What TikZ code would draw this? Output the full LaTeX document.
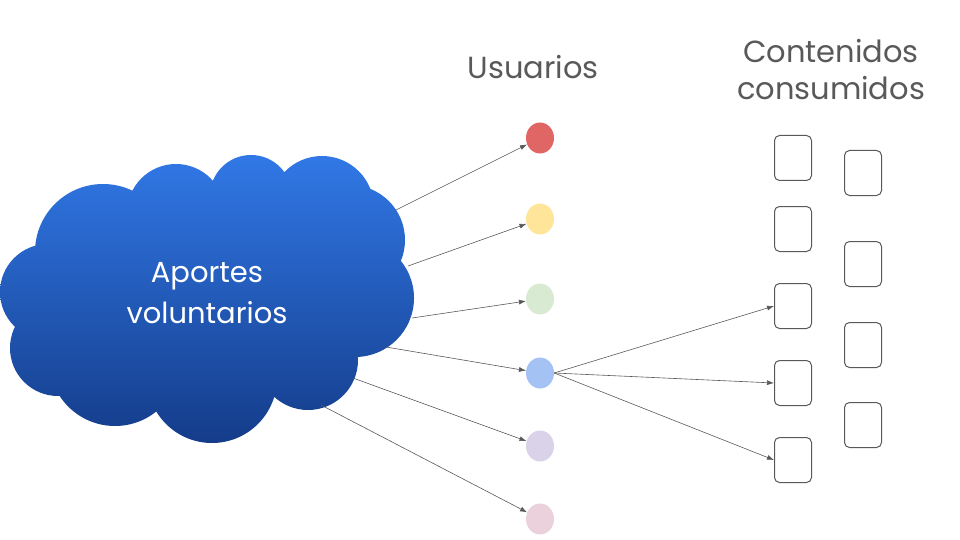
\documentclass[tikz,border=0pt]{standalone}
\usepackage{fontspec}
\setmainfont{Poppins}
\usetikzlibrary{shapes.geometric,arrows.meta}
\definecolor{txtgray}{HTML}{595959}
\definecolor{cloudtop}{HTML}{3178E6}
\definecolor{cloudbot}{HTML}{143C8A}
\definecolor{ured}{HTML}{E06666}
\definecolor{uyellow}{HTML}{FFE599}
\definecolor{ugreen}{HTML}{D9EAD3}
\definecolor{ublue}{HTML}{A4C2F4}
\definecolor{upurple}{HTML}{D9D2E9}
\definecolor{upink}{HTML}{EAD1DC}
\tikzset{
  usr/.style={ellipse,minimum width=28pt,minimum height=31pt,inner sep=0pt},
  cont/.style={draw=txtgray,line width=1pt,rounded corners=5pt,minimum width=37pt,minimum height=45pt,inner sep=0pt},
  arr/.style={->,draw=txtgray,line width=0.6pt},
  title/.style={text=txtgray,font=\fontsize{30.5}{37}\selectfont,align=center}
}
\begin{document}
\begin{tikzpicture}[>={Latex[length=7pt,width=5pt]},x=1pt,y=-1pt]
\useasboundingbox (0,0) rectangle (960,540);
% cloud
\shade[top color=cloudtop,bottom color=cloudbot]
  (103,252) circle(68) (176,213) circle(49) (251,196) circle(41)
  (322,208) circle(52) (350,240) circle(55) (355,298) circle(59)
  (308,360) circle(50) (212,378) circle(65) (115,360) circle(66)
  (58,348) circle(48) (48,292) circle(48) (215,300) ellipse(150 and 105);
\node[text=white,font=\fontsize{29}{41}\selectfont,align=center] (cloud) at (207,293) {Aportes\\voluntarios};
\coordinate (a1) at (396,210);
\coordinate (a2) at (408,266);
\coordinate (a3) at (412,318);
\coordinate (a4) at (386,347);
\coordinate (a5) at (353,378);
\coordinate (a6) at (321,405);

\node[title] (tu) at (533,67) {Usuarios};
\node[title] (tc) at (831,70) {Contenidos\\consumidos};

\node[usr,fill=ured] (u1) at (540,138) {};
\node[usr,fill=uyellow] (u2) at (540,219) {};
\node[usr,fill=ugreen] (u3) at (540,299) {};
\node[usr,fill=ublue] (u4) at (540,373) {};
\node[usr,fill=upurple] (u5) at (540,446) {};
\node[usr,fill=upink] (u6) at (540,519) {};

\node[cont] (c1) at (793,158) {};
\node[cont] (c2) at (793,229) {};
\node[cont] (c3) at (793,306) {};
\node[cont] (c4) at (793,383) {};
\node[cont] (c5) at (793,460) {};
\node[cont] (c6) at (863,173) {};
\node[cont] (c7) at (863,264) {};
\node[cont] (c8) at (863,345) {};
\node[cont] (c9) at (863,425) {};

\draw[arr] (a1)--(u1);
\draw[arr] (a2)--(u2);
\draw[arr] (a3)--(u3);
\draw[arr] (a4)--(u4);
\draw[arr] (a5)--(u5);
\draw[arr] (a6)--(u6);

\draw[arr] (u4.east)--(c3.west);
\draw[arr] (u4.east)--(c4.west);
\draw[arr] (u4.east)--(c5.west);
\end{tikzpicture}
\end{document}
